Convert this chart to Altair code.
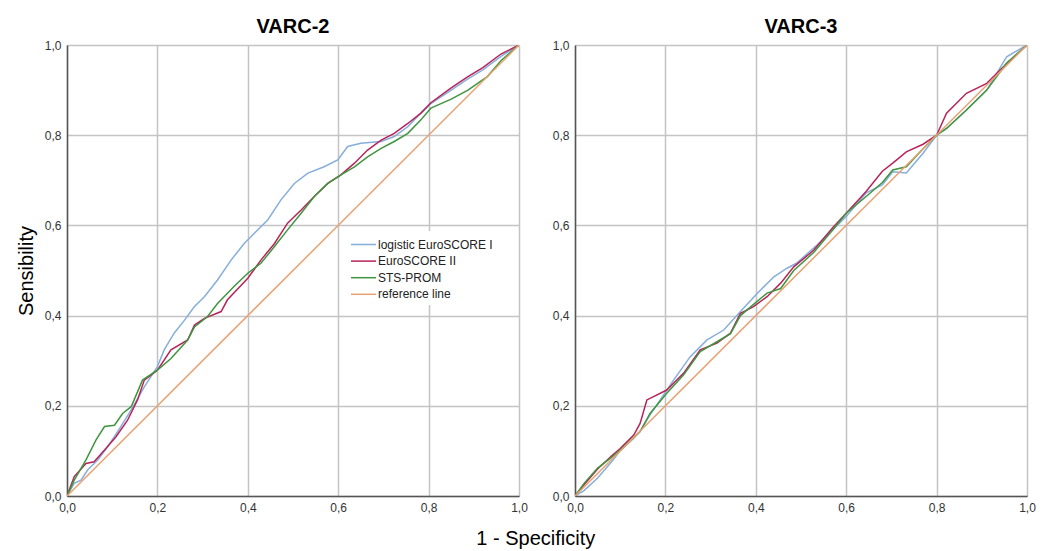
import altair as alt
import pandas as pd

SERIES = ["logistic EuroSCORE I", "EuroSCORE II", "STS-PROM", "reference line"]
COLORS = ["#86aedb", "#b8235a", "#3f953f", "#e8a272"]
TICKS = [0.0, 0.2, 0.4, 0.6, 0.8, 1.0]

# ---- VARC-2 ----
v2_es1_fpr = [0, 0.016, 0.031, 0.046, 0.068, 0.09, 0.119, 0.142, 0.171, 0.2, 0.215, 0.237, 0.26, 0.282, 0.304, 0.333, 0.363, 0.392, 0.414, 0.444, 0.473, 0.503, 0.533, 0.569, 0.599, 0.621, 0.65, 0.695, 0.724, 0.754, 0.783, 0.805, 0.85, 0.887, 0.92, 0.96, 1.0]
v2_es1_tpr = [0, 0.028, 0.035, 0.058, 0.08, 0.109, 0.154, 0.191, 0.242, 0.287, 0.324, 0.361, 0.39, 0.42, 0.442, 0.479, 0.523, 0.56, 0.582, 0.612, 0.656, 0.693, 0.716, 0.73, 0.745, 0.775, 0.782, 0.786, 0.797, 0.819, 0.849, 0.87, 0.9, 0.925, 0.945, 0.975, 1.0]

v2_es2_fpr = [0, 0.016, 0.042, 0.06, 0.083, 0.108, 0.134, 0.156, 0.171, 0.2, 0.23, 0.267, 0.282, 0.304, 0.341, 0.355, 0.4, 0.429, 0.459, 0.488, 0.518, 0.547, 0.577, 0.606, 0.636, 0.665, 0.695, 0.724, 0.754, 0.783, 0.805, 0.85, 0.887, 0.92, 0.96, 1.0]
v2_es2_tpr = [0, 0.043, 0.072, 0.076, 0.102, 0.131, 0.168, 0.213, 0.257, 0.279, 0.324, 0.346, 0.379, 0.394, 0.409, 0.435, 0.483, 0.523, 0.56, 0.605, 0.634, 0.664, 0.693, 0.712, 0.738, 0.767, 0.789, 0.804, 0.826, 0.849, 0.872, 0.905, 0.93, 0.95, 0.98, 1.0]

v2_sts_fpr = [0, 0.016, 0.042, 0.064, 0.083, 0.105, 0.123, 0.142, 0.167, 0.2, 0.23, 0.267, 0.282, 0.311, 0.333, 0.37, 0.4, 0.429, 0.459, 0.488, 0.518, 0.547, 0.577, 0.606, 0.636, 0.665, 0.695, 0.724, 0.754, 0.783, 0.805, 0.85, 0.887, 0.93, 0.96, 1.0]
v2_sts_tpr = [0, 0.035, 0.08, 0.124, 0.154, 0.157, 0.183, 0.198, 0.257, 0.279, 0.305, 0.346, 0.375, 0.398, 0.427, 0.465, 0.494, 0.516, 0.553, 0.59, 0.627, 0.664, 0.693, 0.712, 0.73, 0.752, 0.771, 0.786, 0.804, 0.834, 0.86, 0.88, 0.9, 0.93, 0.965, 1.0]

# ---- VARC-3 ----
v3_es1_fpr = [0, 0.02, 0.05, 0.08, 0.1, 0.13, 0.144, 0.166, 0.218, 0.255, 0.292, 0.329, 0.366, 0.403, 0.44, 0.469, 0.49, 0.536, 0.57, 0.6, 0.644, 0.68, 0.703, 0.733, 0.77, 0.8, 0.822, 0.866, 0.911, 0.955, 1.0]
v3_es1_tpr = [0, 0.012, 0.04, 0.075, 0.1, 0.128, 0.143, 0.18, 0.257, 0.309, 0.346, 0.368, 0.409, 0.449, 0.486, 0.505, 0.516, 0.557, 0.59, 0.62, 0.672, 0.69, 0.719, 0.716, 0.76, 0.8, 0.815, 0.856, 0.9, 0.974, 1.0]

v3_es2_fpr = [0, 0.02, 0.05, 0.08, 0.1, 0.13, 0.144, 0.159, 0.203, 0.24, 0.277, 0.314, 0.344, 0.366, 0.395, 0.425, 0.455, 0.484, 0.528, 0.57, 0.6, 0.644, 0.68, 0.703, 0.733, 0.77, 0.8, 0.822, 0.866, 0.911, 0.955, 1.0]
v3_es2_tpr = [0, 0.025, 0.06, 0.088, 0.105, 0.135, 0.161, 0.213, 0.235, 0.272, 0.324, 0.339, 0.361, 0.405, 0.42, 0.442, 0.472, 0.508, 0.545, 0.595, 0.627, 0.675, 0.72, 0.738, 0.763, 0.78, 0.8, 0.849, 0.893, 0.915, 0.959, 1.0]

v3_sts_fpr = [0, 0.02, 0.05, 0.08, 0.1, 0.13, 0.144, 0.166, 0.203, 0.24, 0.277, 0.314, 0.344, 0.366, 0.395, 0.425, 0.455, 0.484, 0.528, 0.57, 0.6, 0.644, 0.68, 0.703, 0.733, 0.77, 0.8, 0.822, 0.866, 0.911, 0.955, 1.0]
v3_sts_tpr = [0, 0.028, 0.062, 0.085, 0.102, 0.13, 0.143, 0.183, 0.228, 0.268, 0.32, 0.342, 0.36, 0.4, 0.425, 0.45, 0.46, 0.5, 0.54, 0.59, 0.627, 0.664, 0.695, 0.723, 0.73, 0.77, 0.8, 0.815, 0.856, 0.9, 0.96, 1.0]

ref_fpr = [0, 1]
ref_tpr = [0, 1]


def frame(fpr, tpr, series):
    return pd.DataFrame({"fpr": fpr, "tpr": tpr, "series": series, "order": range(len(fpr))})


def panel_df(es1, es2, sts):
    return pd.concat([
        frame(*es1, SERIES[0]),
        frame(*es2, SERIES[1]),
        frame(*sts, SERIES[2]),
        frame(ref_fpr, ref_tpr, SERIES[3]),
    ], ignore_index=True)


df2 = panel_df((v2_es1_fpr, v2_es1_tpr), (v2_es2_fpr, v2_es2_tpr), (v2_sts_fpr, v2_sts_tpr))
df3 = panel_df((v3_es1_fpr, v3_es1_tpr), (v3_es2_fpr, v3_es2_tpr), (v3_sts_fpr, v3_sts_tpr))

FONT = "Liberation Sans"
label_expr = "replace(format(datum.value, '.1f'), '.', ',')"


def axis(title=None, pad=None):
    kw = dict(values=TICKS, labelExpr=label_expr, ticks=False, labelPadding=6,
              labelFontSize=12, labelColor="#333333", labelFont=FONT,
              grid=True, gridColor="#c4c4c4", gridWidth=1.5,
              domainColor="#555555", domainWidth=1.5, labelFlush=False)
    if title is not None:
        kw.update(title=title, titleFontSize=20, titleFont=FONT, titleFontWeight="normal",
                  titleColor="#000000", titlePadding=pad)
    else:
        kw.update(title=None)
    return alt.Axis(**kw)


def panel(df, name, show_legend, ytitle):
    if show_legend:
        legend = alt.Legend(title=None, orient="none", legendX=283, legendY=186,
                            fillColor="#ffffff", padding=4, labelFontSize=12,
                            labelFont=FONT, labelColor="#222222",
                            symbolType="M-1.5,0L1.5,0",
                            symbolSize=280, symbolStrokeWidth=1.5, rowPadding=0.6,
                            labelOffset=5)
    else:
        legend = None
    base = alt.Chart(df).mark_line(strokeWidth=1.5, clip=True).encode(
        x=alt.X("fpr:Q", scale=alt.Scale(domain=[0, 1], nice=False), axis=axis()),
        y=alt.Y("tpr:Q", scale=alt.Scale(domain=[0, 1], nice=False),
                axis=axis(ytitle, 8) if ytitle else axis()),
        color=alt.Color("series:N", scale=alt.Scale(domain=SERIES, range=COLORS), legend=legend),
        order="order:Q",
        detail="series:N",
    )
    return base.properties(
        width=452, height=451,
        title=alt.TitleParams(name, fontSize=20, fontWeight="bold", font=FONT,
                              color="#000000", offset=2),
    )


left = panel(df2, "VARC-2", True, "Sensibility")
right = panel(df3, "VARC-3", False, None)

chart = alt.hconcat(left, right, spacing=23).resolve_scale(color="independent").properties(
    title=alt.TitleParams("1 - Specificity", orient="bottom", anchor="middle", fontSize=20,
                          fontWeight="normal", font=FONT, color="#000000", offset=15, dx=10),
    padding={"left": 7, "top": 8, "right": 0, "bottom": 0},
).configure_view(stroke=None).configure(background="#ffffff")

chart.save("out.html", embed_options={"renderer": "svg", "actions": False})
